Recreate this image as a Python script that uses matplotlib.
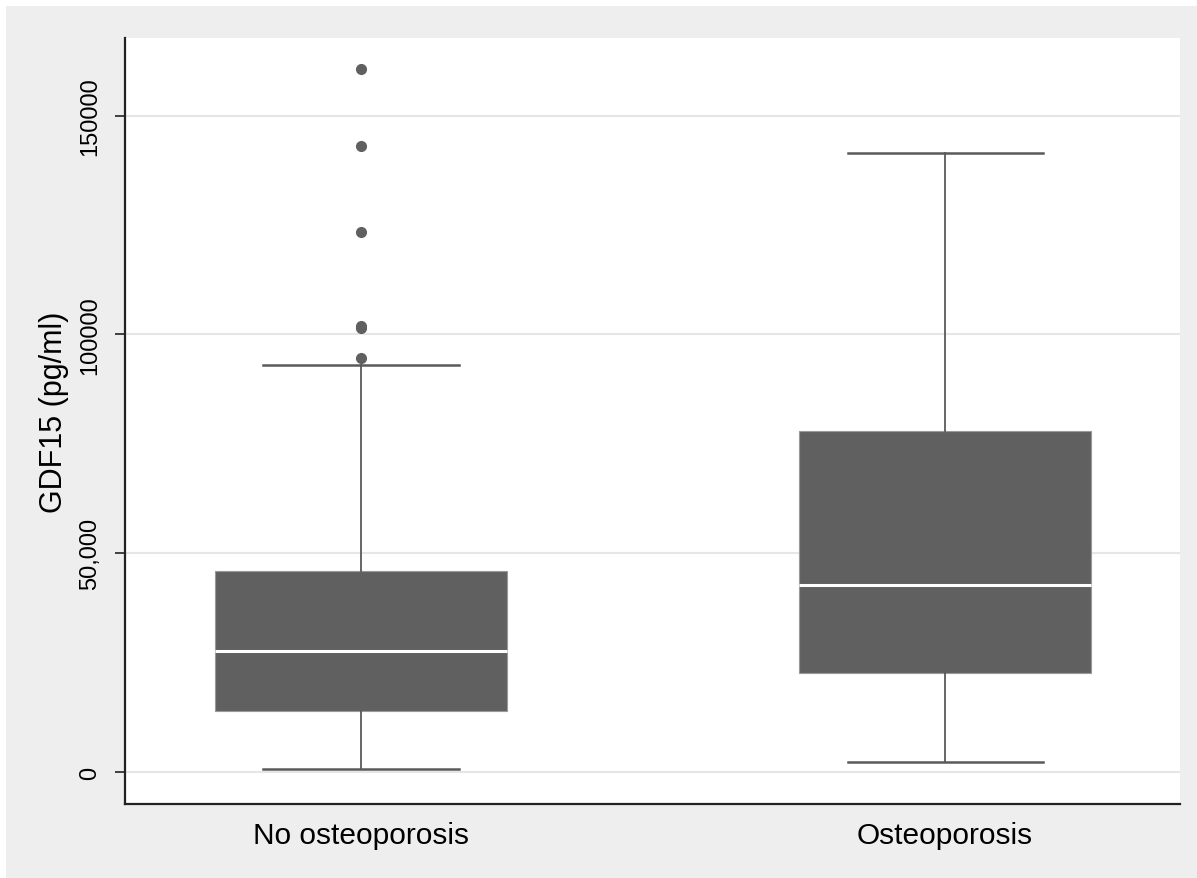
import matplotlib
matplotlib.use("Agg")
import matplotlib.pyplot as plt
from matplotlib.patches import Rectangle

plt.rcParams['font.family'] = ['Liberation Sans', 'DejaVu Sans']

groups = ["No osteoporosis", "Osteoporosis"]
q1 = [13940, 22620]
medians = [27650, 42730]
q3 = [45930, 77930]
whisk_lo = [690, 2290]
whisk_hi = [93000, 141450]
outliers = [[94600, 101500, 102000, 123400, 143050, 160650], []]
yticks = [0, 50000, 100000, 150000]
ytick_labels = ["0", "50,000", "100000", "150000"]

box_color = "#606060"

fig = plt.figure(figsize=(11.97, 8.79), dpi=100, facecolor="white")
# grey graph region (thin white strip left/top like the export)
bg = Rectangle((6/1197, 0), 1, 1 - 7/879, transform=fig.transFigure,
               facecolor="#eeeeee", edgecolor="none", zorder=-10)
fig.add_artist(bg)
ax = fig.add_axes([125/1197, 74/879, 1055/1197, 766/879])
ax.set_zorder(1)
ax.set_facecolor("white")

stats = []
for i, g in enumerate(groups):
    stats.append(dict(label=g, med=medians[i], q1=q1[i], q3=q3[i],
                      whislo=whisk_lo[i], whishi=whisk_hi[i], fliers=outliers[i]))

ax.bxp(stats, positions=[1, 2], widths=0.5, capwidths=0.334, patch_artist=True,
       boxprops=dict(facecolor=box_color, edgecolor="#9a9a9a", linewidth=0.8),
       medianprops=dict(color="white", linewidth=2.2),
       whiskerprops=dict(color="#5a5a5a", linewidth=1.3),
       capprops=dict(color="#5a5a5a", linewidth=1.8),
       flierprops=dict(marker="o", markersize=7, markerfacecolor=box_color,
                       markeredgecolor=box_color))

ax.set_xlim(0.596, 2.402)
ax.set_ylim(-7313, 167733)
ax.set_yticks(yticks)
ax.set_yticklabels(ytick_labels, rotation=90, va="center", fontsize=17)
ax.set_xticks([1, 2])
ax.set_xticklabels(groups, fontsize=21.5)
ax.tick_params(axis="x", length=0, pad=12)
ax.tick_params(axis="y", length=7, width=1.2, color="#222222", pad=10)

ax.yaxis.grid(True, color="#e6e6e6", linewidth=1.5)
ax.set_axisbelow(True)

for s in ["top", "right"]:
    ax.spines[s].set_visible(False)
for s in ["left", "bottom"]:
    ax.spines[s].set_color("#222222")
    ax.spines[s].set_linewidth(1.6)

ax.set_ylabel("GDF15 (pg/ml)", fontsize=22)
ax.yaxis.set_label_coords(-0.053, 0.513)

fig.savefig("out.png", dpi=100, facecolor=fig.get_facecolor())
